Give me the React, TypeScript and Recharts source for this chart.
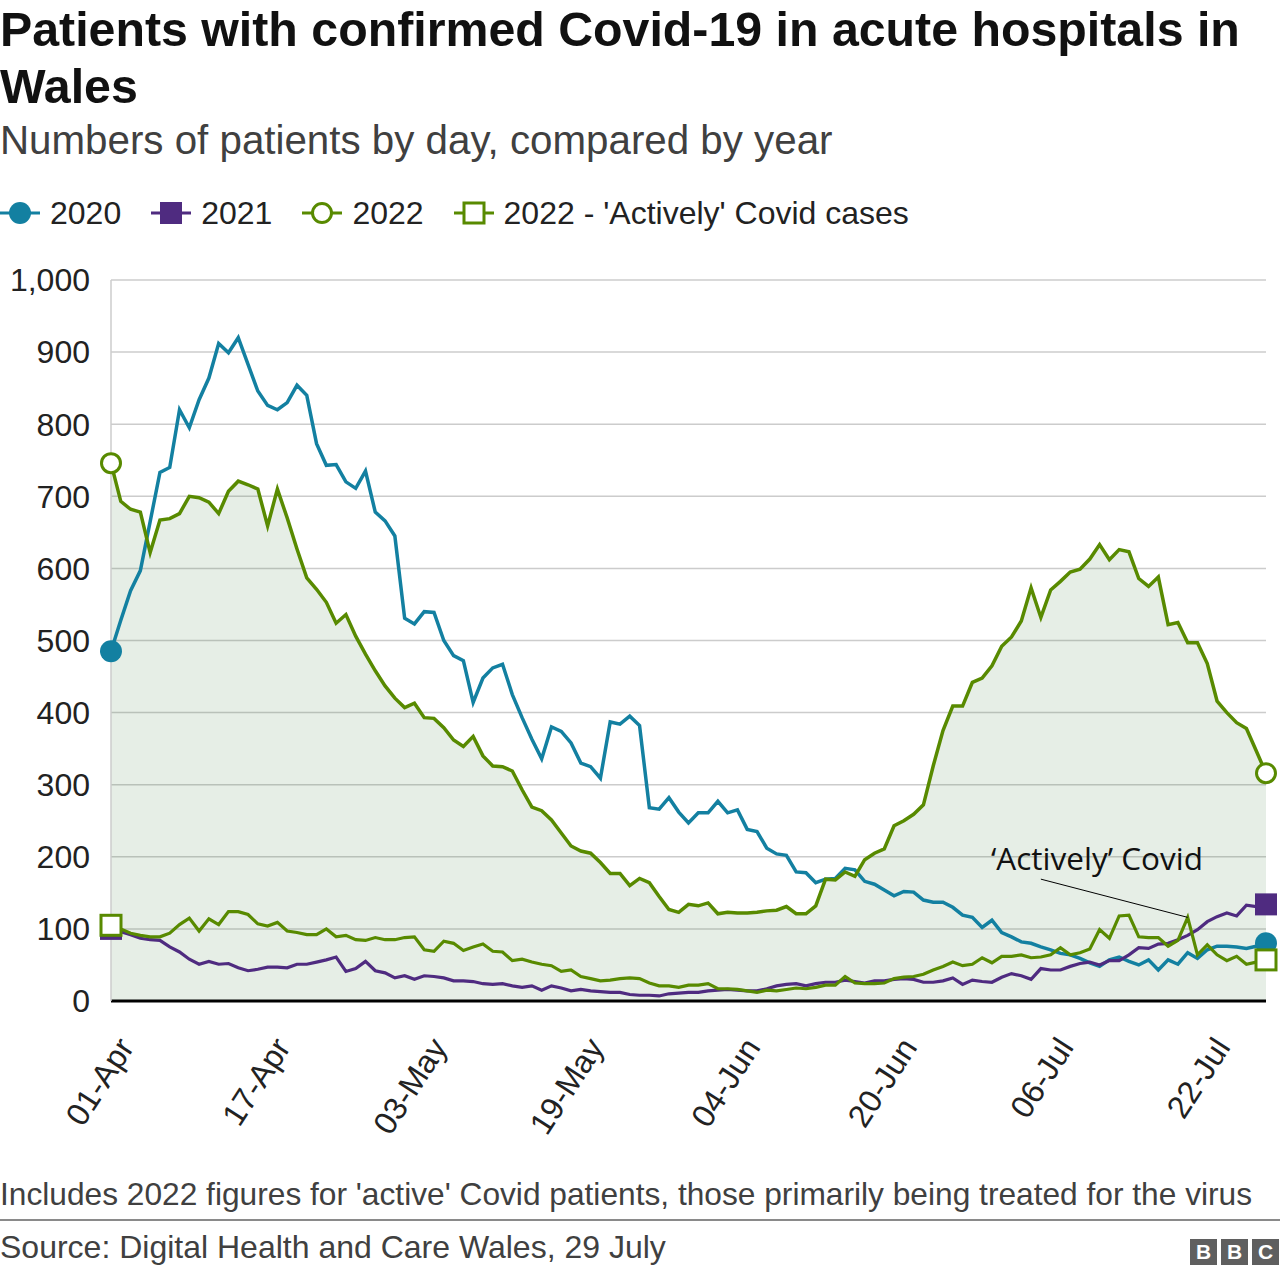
import React from 'react'
import {
  ComposedChart, Area, Line, XAxis, YAxis, CartesianGrid, ReferenceLine,
} from 'recharts'

// day index counted from 01-Apr (0) to 28-Jul (118)
const DAYS = Array.from({ length: 119 }, (_, i) => i)

const TICK_DAYS = [0, 16, 32, 48, 64, 80, 96, 112]
const TICK_LABELS = ['01-Apr', '17-Apr', '03-May', '19-May', '04-Jun', '20-Jun', '06-Jul', '22-Jul']
const Y_TICKS = [0, 100, 200, 300, 400, 500, 600, 700, 800, 900, 1000]

const Y2020 = [
  485, 528, 569, 597, 665, 733, 740, 820, 795, 834, 864, 912, 899, 920, 883, 846, 826, 820, 830, 854,
  840, 773, 743, 744, 720, 711, 735, 678, 666, 645, 531, 523, 540, 539, 500, 479, 472, 414, 448, 462,
  467, 425, 393, 363, 336, 380, 374, 358, 330, 325, 309, 387, 384, 395, 382, 268, 266, 282, 262, 247,
  261, 261, 277, 261, 265, 238, 235, 212, 204, 202, 179, 178, 164, 169, 170, 184, 182, 166, 162, 154,
  146, 152, 151, 140, 137, 137, 130, 119, 116, 102, 112, 95, 89, 82, 80, 75, 71, 66, 64, 59,
  53, 48, 57, 61, 55, 50, 57, 43, 57, 51, 67, 59, 71, 76, 76, 75, 73, 76, 80,
]

const Y2021 = [
  100, 96, 92, 87, 85, 84, 75, 68, 58, 51, 55, 51, 52, 46, 42, 44, 47, 47, 46, 51,
  51, 54, 57, 61, 41, 45, 55, 42, 39, 32, 35, 30, 35, 34, 32, 28, 28, 27, 24, 23,
  24, 21, 19, 21, 15, 21, 18, 14, 16, 14, 13, 12, 12, 9, 8, 8, 7, 10, 11, 12,
  12, 14, 15, 16, 15, 14, 14, 17, 21, 23, 24, 21, 24, 26, 26, 29, 27, 25, 28, 28,
  30, 31, 30, 26, 26, 28, 32, 23, 29, 27, 26, 33, 38, 35, 30, 45, 43, 43, 48, 52,
  54, 50, 56, 56, 64, 74, 73, 79, 80, 85, 91, 99, 110, 117, 122, 118, 133, 131, 134,
]

const Y2022 = [
  746, 693, 682, 678, 622, 667, 669, 676, 700, 698, 692, 676, 707, 721, 716, 710, 659, 710, 670, 627,
  587, 571, 553, 524, 536, 506, 481, 458, 437, 420, 407, 413, 393, 392, 379, 362, 353, 367, 340, 326,
  325, 319, 293, 269, 264, 251, 233, 215, 208, 205, 192, 177, 177, 160, 170, 164, 145, 127, 123, 134,
  132, 136, 121, 123, 122, 122, 123, 125, 126, 131, 121, 121, 132, 169, 168, 179, 173, 196, 205, 211,
  243, 250, 259, 272, 326, 375, 409, 409, 442, 448, 465, 492, 505, 527, 573, 532, 570, 582, 595, 599,
  613, 633, 612, 626, 623, 586, 575, 588, 522, 525, 497, 497, 468, 416, 400, 386, 378, 347, 316,
]

const Y2022_ACTIVE = [
  105, 100, 94, 91, 89, 89, 94, 106, 115, 97, 114, 106, 124, 124, 120, 107, 104, 109, 97, 95,
  92, 92, 100, 89, 91, 85, 84, 88, 85, 85, 88, 89, 71, 69, 83, 80, 70, 75, 79, 69,
  68, 56, 58, 54, 51, 49, 41, 43, 34, 31, 28, 29, 31, 32, 31, 25, 21, 21, 19, 22,
  22, 24, 17, 17, 16, 14, 12, 15, 14, 16, 18, 17, 19, 22, 22, 34, 25, 24, 24, 25,
  31, 33, 34, 37, 43, 48, 54, 49, 51, 60, 53, 62, 62, 64, 60, 61, 64, 74, 64, 67,
  72, 99, 87, 118, 119, 89, 88, 88, 76, 84, 116, 64, 78, 64, 56, 62, 51, 54, 57,
]

const TEAL = '#1380a1'
const PURPLE = '#4f2b80'
const GREEN = '#588a00'
const LAST = DAYS.length - 1

const rows = DAYS.map((d, i) => ({
  day: d,
  y2020: Y2020[i],
  y2021: Y2021[i],
  y2022: Y2022[i],
  active: Y2022_ACTIVE[i],
}))

const endDot = (shape: 'circle' | 'square', color: string, hollow: boolean) => (props: any) => {
  const { cx, cy, index } = props
  if ((index !== 0 && index !== LAST) || cx == null || cy == null) return <g key={`e-${index}`} />
  if (shape === 'circle') {
    return hollow
      ? <circle key={`e-${index}`} cx={cx} cy={cy} r={9.5} fill="#fff" stroke={color} strokeWidth={3} />
      : <circle key={`e-${index}`} cx={cx} cy={cy} r={11} fill={color} />
  }
  return hollow
    ? <rect key={`e-${index}`} x={cx - 10} y={cy - 10} width={20} height={20} fill="#fff" stroke={color} strokeWidth={3} />
    : <rect key={`e-${index}`} x={cx - 11} y={cy - 11} width={22} height={22} fill={color} />
}

const DateTick = (props: any) => {
  const { x, y, payload } = props
  const label = TICK_LABELS[TICK_DAYS.indexOf(payload.value)] ?? ''
  const ox = x + 5
  const oy = y + 32
  return (
    <text x={ox} y={oy} dy="0.71em" textAnchor="end" fontSize={32} fill="#222"
      transform={`rotate(-57, ${ox}, ${oy})`}>{label}</text>
  )
}

function LegendMark({ color, shape, hollow }: { color: string; shape: 'circle' | 'square'; hollow: boolean }) {
  return (
    <svg width={40} height={26} style={{ display: 'block' }}>
      <line x1={0} y1={13} x2={40} y2={13} stroke={color} strokeWidth={3} />
      {shape === 'circle'
        ? <circle cx={20} cy={13} r={hollow ? 9.5 : 11} fill={hollow ? '#fff' : color} stroke={color} strokeWidth={hollow ? 3 : 0} />
        : hollow
          ? <rect x={10} y={3} width={20} height={20} fill="#fff" stroke={color} strokeWidth={3} />
          : <rect x={9} y={2} width={22} height={22} fill={color} />}
    </svg>
  )
}

const LEGEND = [
  { label: '2020', color: TEAL, shape: 'circle' as const, hollow: false },
  { label: '2021', color: PURPLE, shape: 'square' as const, hollow: false },
  { label: '2022', color: GREEN, shape: 'circle' as const, hollow: true },
  { label: "2022 - 'Actively' Covid cases", color: GREEN, shape: 'square' as const, hollow: true },
]

export default function App() {
  return (
    <div style={{
      position: 'absolute', left: 0, top: 0, width: 1280, height: 1276, background: '#fff', overflow: 'hidden',
      fontFamily: '"Liberation Sans", Arial, Helvetica, sans-serif', color: '#222',
    }}>
      <div style={{ position: 'absolute', left: 0, top: 1, width: 1280, fontSize: 48.3, fontWeight: 700, lineHeight: '57px', color: '#111' }}>
        Patients with confirmed Covid-19 in acute hospitals in Wales
      </div>
      <div style={{ position: 'absolute', left: 0, top: 117, fontSize: 40.3, lineHeight: '48px', color: '#404040' }}>
        Numbers of patients by day, compared by year
      </div>

      <div style={{ position: 'absolute', left: 0, top: 193, height: 40, display: 'flex', alignItems: 'center', gap: 30 }}>
        {LEGEND.map((l) => (
          <div key={l.label} style={{ display: 'flex', alignItems: 'center' }}>
            <LegendMark color={l.color} shape={l.shape} hollow={l.hollow} />
            <span style={{ marginLeft: 10, fontSize: 32, lineHeight: '40px' }}>{l.label}</span>
          </div>
        ))}
      </div>

      <div style={{ position: 'absolute', left: 0, top: 260 }}>
        <ComposedChart width={1280} height={891} data={rows} margin={{ top: 20, right: 14, bottom: 0, left: 0 }}>
          <CartesianGrid vertical={false} stroke="#cccccc" strokeWidth={1.5} />
          <XAxis dataKey="day" type="number" domain={[0, 118]} ticks={TICK_DAYS} interval={0}
            tick={<DateTick />} tickLine={false} tickSize={0} height={150}
            axisLine={{ stroke: '#000', strokeWidth: 3 }} />
          <YAxis type="number" domain={[0, 1000]} ticks={Y_TICKS} interval={0} width={111}
            tickFormatter={(v: number) => v.toLocaleString('en-US')}
            tick={{ fontSize: 32, fill: '#222' }} tickLine={false} tickSize={0} tickMargin={21}
            axisLine={{ stroke: '#cccccc', strokeWidth: 1.5 }} />
          <Area dataKey="y2022" type="linear" stroke="none" fill="#3f7f3f" fillOpacity={0.13}
            isAnimationActive={false} dot={false} activeDot={false} />
          <Line dataKey="y2020" type="linear" stroke={TEAL} strokeWidth={3.5}
            dot={endDot('circle', TEAL, false)} activeDot={false} isAnimationActive={false} />
          <Line dataKey="y2021" type="linear" stroke={PURPLE} strokeWidth={3.2}
            dot={endDot('square', PURPLE, false)} activeDot={false} isAnimationActive={false} />
          <Line dataKey="y2022" type="linear" stroke={GREEN} strokeWidth={3.5}
            dot={endDot('circle', GREEN, true)} activeDot={false} isAnimationActive={false} />
          <Line dataKey="active" type="linear" stroke={GREEN} strokeWidth={3.2}
            dot={endDot('square', GREEN, true)} activeDot={false} isAnimationActive={false} />
          <ReferenceLine segment={[{ x: 95, y: 169 }, { x: 110, y: 116 }]} stroke="#000" strokeWidth={1} ifOverflow="visible" />
        </ComposedChart>
      </div>

      <div style={{ position: 'absolute', left: 991, top: 842, fontSize: 31.5, lineHeight: '31px', fontFamily: '"Open Sans", "Noto Sans", sans-serif', color: '#111', whiteSpace: 'nowrap' }}>
        ‘Actively’ Covid
      </div>

      <div style={{ position: 'absolute', left: 0, top: 1175, fontSize: 31.7, lineHeight: '38px', color: '#404040', whiteSpace: 'nowrap' }}>
        Includes 2022 figures for 'active' Covid patients, those primarily being treated for the virus
      </div>
      <div style={{ position: 'absolute', left: 0, top: 1219, width: 1280, height: 2, background: '#8a8a8a' }} />
      <div style={{ position: 'absolute', left: 0, top: 1228, fontSize: 32, lineHeight: '38px', color: '#404040', whiteSpace: 'nowrap' }}>
        Source: Digital Health and Care Wales, 29 July
      </div>
      <div style={{ position: 'absolute', left: 1190, top: 1239, display: 'flex', gap: 4 }}>
        {['B', 'B', 'C'].map((c, i) => (
          <div key={i} style={{
            width: 27, height: 26, background: '#5f5f5f', color: '#fff', fontWeight: 700, fontSize: 21,
            lineHeight: '26px', textAlign: 'center',
          }}>{c}</div>
        ))}
      </div>
    </div>
  )
}
